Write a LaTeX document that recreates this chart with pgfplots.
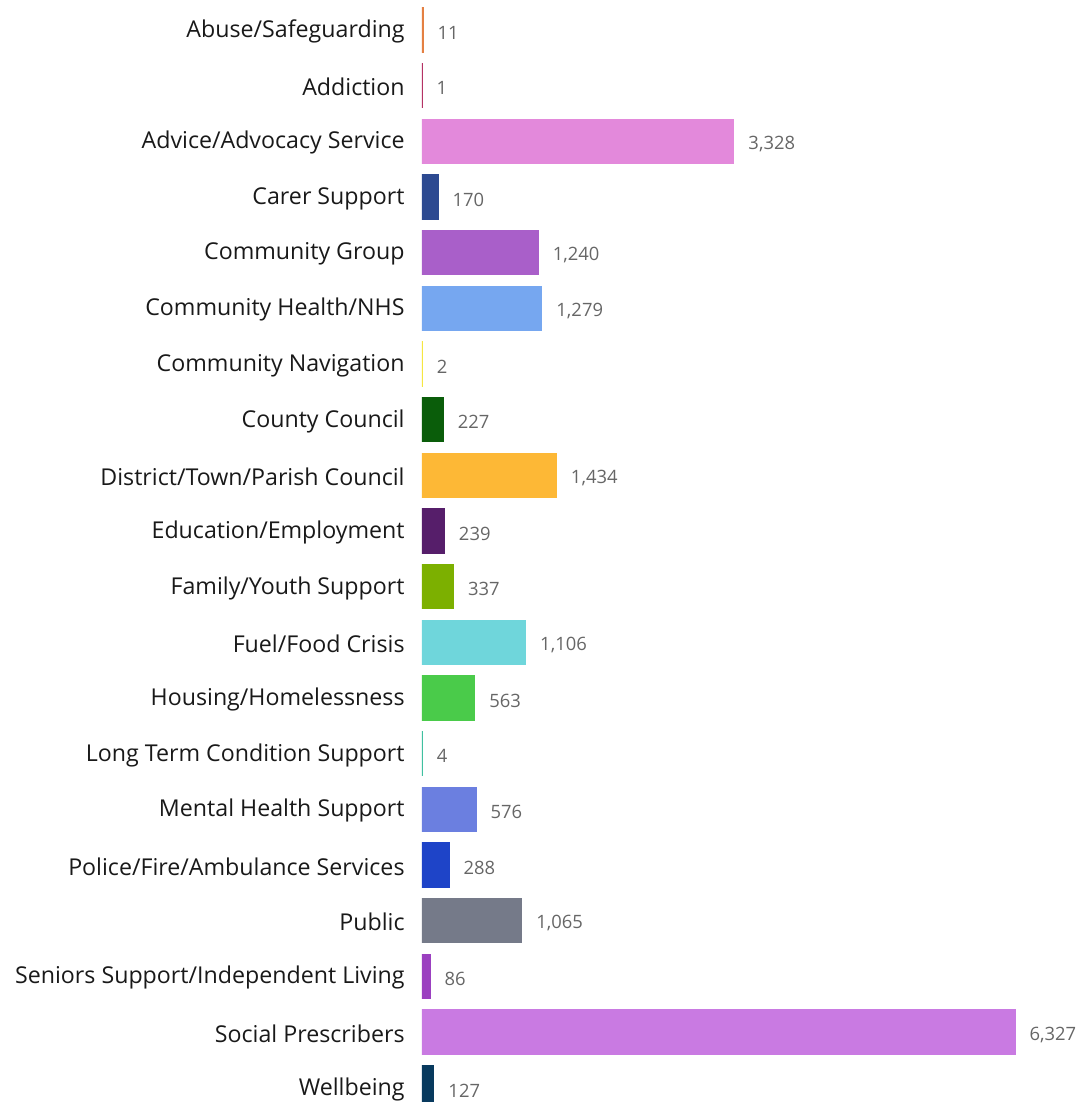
\documentclass[border=0pt]{standalone}
\usepackage{pgfplots}
\pgfplotsset{compat=1.18}
\usepackage{fontspec}
\setmainfont{Open Sans}
\definecolor{c0}{RGB}{228,128,66}
\definecolor{c1}{RGB}{180,50,100}
\definecolor{c2}{RGB}{227,137,219}
\definecolor{c3}{RGB}{45,74,145}
\definecolor{c4}{RGB}{169,95,201}
\definecolor{c5}{RGB}{118,167,240}
\definecolor{c6}{RGB}{245,230,66}
\definecolor{c7}{RGB}{10,93,10}
\definecolor{c8}{RGB}{253,184,54}
\definecolor{c9}{RGB}{86,30,106}
\definecolor{c10}{RGB}{124,176,0}
\definecolor{c11}{RGB}{111,214,219}
\definecolor{c12}{RGB}{74,203,74}
\definecolor{c13}{RGB}{64,192,160}
\definecolor{c14}{RGB}{107,127,224}
\definecolor{c15}{RGB}{30,68,200}
\definecolor{c16}{RGB}{117,122,137}
\definecolor{c17}{RGB}{155,64,192}
\definecolor{c18}{RGB}{201,122,226}
\definecolor{c19}{RGB}{8,58,94}
\definecolor{valgray}{RGB}{102,102,102}
\begin{document}
\begin{tikzpicture}
\useasboundingbox (-211pt,0pt) rectangle (328pt,551pt);
\begin{axis}[
  at={(0,0)}, anchor=south west,
  scale only axis, width=328pt, height=551pt,
  xmin=0, xmax=7000,
  ymin=-0.539, ymax=19.256, y dir=reverse,
  xbar, bar width=22pt, bar shift=0pt,
  axis line style={draw=none}, tick style={draw=none},
  major tick length=0pt,
  xtick=\empty,
  ytick={0,...,19},
  yticklabels={Abuse/Safeguarding,Addiction,Advice/Advocacy Service,Carer Support,Community Group,Community Health/NHS,Community Navigation,County Council,District/Town/Parish Council,Education/Employment,Family/Youth Support,Fuel/Food Crisis,Housing/Homelessness,Long Term Condition Support,Mental Health Support,Police/Fire/Ambulance Services,Public,Seniors Support/Independent Living,Social Prescribers,Wellbeing},
  yticklabel style={font=\fontsize{11.6pt}{13pt}\selectfont, text=black!90, inner sep=0pt, xshift=-8.5pt, yshift=-0.7pt},
  nodes near coords,
  point meta=x,
  /pgf/number format/.cd, 1000 sep={,}, fixed, precision=0, assume math mode=true,
  /pgfplots/.cd,
  every node near coord/.append style={font=\fontsize{9.2pt}{11pt}\selectfont, text=valgray, anchor=west, inner sep=0pt, xshift=7pt, yshift=-1.3pt},
  clip=true,
]
\addplot[fill=c0, draw=c0, line width=0.6pt] coordinates {(11,0)};
\addplot[fill=c1, draw=c1, line width=0.6pt] coordinates {(1,1)};
\addplot[fill=c2, draw=c2, line width=0.6pt] coordinates {(3328,2)};
\addplot[fill=c3, draw=c3, line width=0.6pt] coordinates {(170,3)};
\addplot[fill=c4, draw=c4, line width=0.6pt] coordinates {(1240,4)};
\addplot[fill=c5, draw=c5, line width=0.6pt] coordinates {(1279,5)};
\addplot[fill=c6, draw=c6, line width=0.6pt] coordinates {(2,6)};
\addplot[fill=c7, draw=c7, line width=0.6pt] coordinates {(227,7)};
\addplot[fill=c8, draw=c8, line width=0.6pt] coordinates {(1434,8)};
\addplot[fill=c9, draw=c9, line width=0.6pt] coordinates {(239,9)};
\addplot[fill=c10, draw=c10, line width=0.6pt] coordinates {(337,10)};
\addplot[fill=c11, draw=c11, line width=0.6pt] coordinates {(1106,11)};
\addplot[fill=c12, draw=c12, line width=0.6pt] coordinates {(563,12)};
\addplot[fill=c13, draw=c13, line width=0.6pt] coordinates {(4,13)};
\addplot[fill=c14, draw=c14, line width=0.6pt] coordinates {(576,14)};
\addplot[fill=c15, draw=c15, line width=0.6pt] coordinates {(288,15)};
\addplot[fill=c16, draw=c16, line width=0.6pt] coordinates {(1065,16)};
\addplot[fill=c17, draw=c17, line width=0.6pt] coordinates {(86,17)};
\addplot[fill=c18, draw=c18, line width=0.6pt] coordinates {(6327,18)};
\addplot[fill=c19, draw=c19, line width=0.6pt] coordinates {(127,19)};
\end{axis}
\end{tikzpicture}
\end{document}
